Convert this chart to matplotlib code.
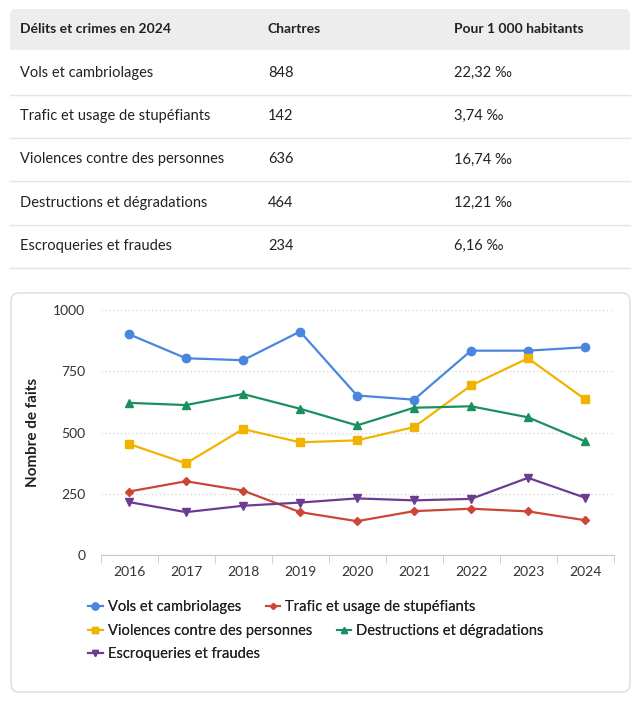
import matplotlib
matplotlib.use('Agg')
import matplotlib.pyplot as plt
from matplotlib.patches import FancyBboxPatch, Rectangle
from matplotlib.lines import Line2D

plt.rcParams['font.family'] = ['Lato', 'DejaVu Sans']

# table data
table_header = ['Délits et crimes en 2024', 'Chartres', 'Pour 1 000 habitants']
categories = ['Vols et cambriolages', 'Trafic et usage de stupéfiants',
              'Violences contre des personnes', 'Destructions et dégradations',
              'Escroqueries et fraudes']
counts_2024 = ['848', '142', '636', '464', '234']
rates_2024 = ['22,32 ‰', '3,74 ‰', '16,74 ‰', '12,21 ‰', '6,16 ‰']

# chart data
years = ['2016', '2017', '2018', '2019', '2020', '2021', '2022', '2023', '2024']
vols = [901, 803, 795, 912, 651, 634, 834, 834, 848]
trafic = [259, 301, 263, 175, 138, 179, 189, 178, 142]
violences = [453, 374, 514, 460, 468, 522, 692, 803, 636]
destructions = [621, 612, 657, 597, 529, 601, 607, 562, 464]
escroqueries = [216, 175, 201, 214, 231, 223, 229, 315, 234]
yticks = [0, 250, 500, 750, 1000]

series = [
    (categories[0], vols, '#4a86e0', 'o', 6),
    (categories[1], trafic, '#cc4638', 'D', 4),
    (categories[2], violences, '#f0b400', 's', 6),
    (categories[3], destructions, '#1a9060', '^', 6),
    (categories[4], escroqueries, '#6e3b92', 'v', 6),
]

W, H = 642, 706
fig = plt.figure(figsize=(W / 100, H / 100), dpi=100)

def fx(px): return px / W
def fy(py): return 1 - py / H

# ---- table ----
fig.patches.append(FancyBboxPatch((fx(10), fy(49)), fx(620), fy(9) - fy(49),
                                  boxstyle='round,pad=0,rounding_size=0.008',
                                  transform=fig.transFigure, fc='#ededed', ec='none', zorder=-2))
fig.patches.append(Rectangle((fx(10), fy(50)), fx(620), fy(30) - fy(50),
                             transform=fig.transFigure, fc='#ededed', ec='none', zorder=-2))
col_x = [20, 268, 454]
for x, t in zip(col_x, table_header):
    fig.text(fx(x), fy(29), t, fontsize=10, fontweight='bold', color='#222222', va='center')
for i in range(len(categories)):
    yc = 73 + i * 43.2
    for x, t in zip(col_x, [categories[i], counts_2024[i], rates_2024[i]]):
        fig.text(fx(x), fy(yc), t, fontsize=10.5, color='#222222', va='center')
    yl = 95 + i * 43.2
    fig.add_artist(Line2D([fx(10), fx(630)], [fy(yl), fy(yl)], color='#e4e4e4', lw=1,
                          transform=fig.transFigure))

# ---- chart card ----
fig.patches.append(FancyBboxPatch((fx(11), fy(692)), fx(619), fy(293) - fy(692),
                                  boxstyle='round,pad=0,rounding_size=0.012',
                                  transform=fig.transFigure, fc='white', ec='#dcdcdc', lw=1,
                                  zorder=-2))

ax = fig.add_axes([fx(100.5), fy(555), fx(613.5) - fx(100.5), fy(310) - fy(555)])
ax.set_facecolor('none')
ax.set_zorder(2)
x = range(len(years))
for name, vals, c, m, ms in series:
    ax.plot(x, vals, color=c, lw=1.6, marker=m, ms=ms, label=name, clip_on=False)

ax.set_xlim(-0.5, len(years) - 0.5)
ax.set_ylim(0, 1000)
ax.set_yticks(yticks)
ax.set_yticklabels([str(v) for v in yticks], fontsize=10, color='#333333')
ax.set_xticks(list(x))
ax.set_xticklabels(years, fontsize=10, color='#333333')
ax.tick_params(axis='y', length=0, pad=11)
ax.tick_params(axis='x', length=0, pad=8)
ax.set_xticks([i + 0.5 for i in range(-1, len(years))], minor=True)
ax.tick_params(axis='x', which='minor', length=6, color='#c8c8c8')
for s in ['top', 'right', 'left']:
    ax.spines[s].set_visible(False)
ax.spines['bottom'].set_color('#c8c8c8')
ax.grid(axis='y', linestyle=(0, (1, 2.5)), color='#cccccc', lw=0.8)
ax.set_axisbelow(True)
ax.set_ylabel('Nombre de faits', fontsize=11, fontweight='bold', color='#222222')
ax.yaxis.set_label_coords((40 - 100.5) / 513, 0.5)

# ---- legend in three rows ----
handles = [Line2D([], [], color=c, marker=m, ms=ms - 1, lw=1.5) for _, _, c, m, ms in series]
rows = [([0, 1], 607), ([2, 3], 631), ([4], 654)]
for idx, ypx in rows:
    leg = fig.legend([handles[i] for i in idx], [categories[i] for i in idx],
                     loc='center left', bbox_to_anchor=(fx(88), fy(ypx)), ncol=len(idx),
                     frameon=False, fontsize=10.5, handlelength=1.0, handletextpad=0.35,
                     columnspacing=1.7, labelcolor='#222222', borderpad=0, borderaxespad=0)
    fig.add_artist(leg)

fig.savefig('out.png', dpi=100)
